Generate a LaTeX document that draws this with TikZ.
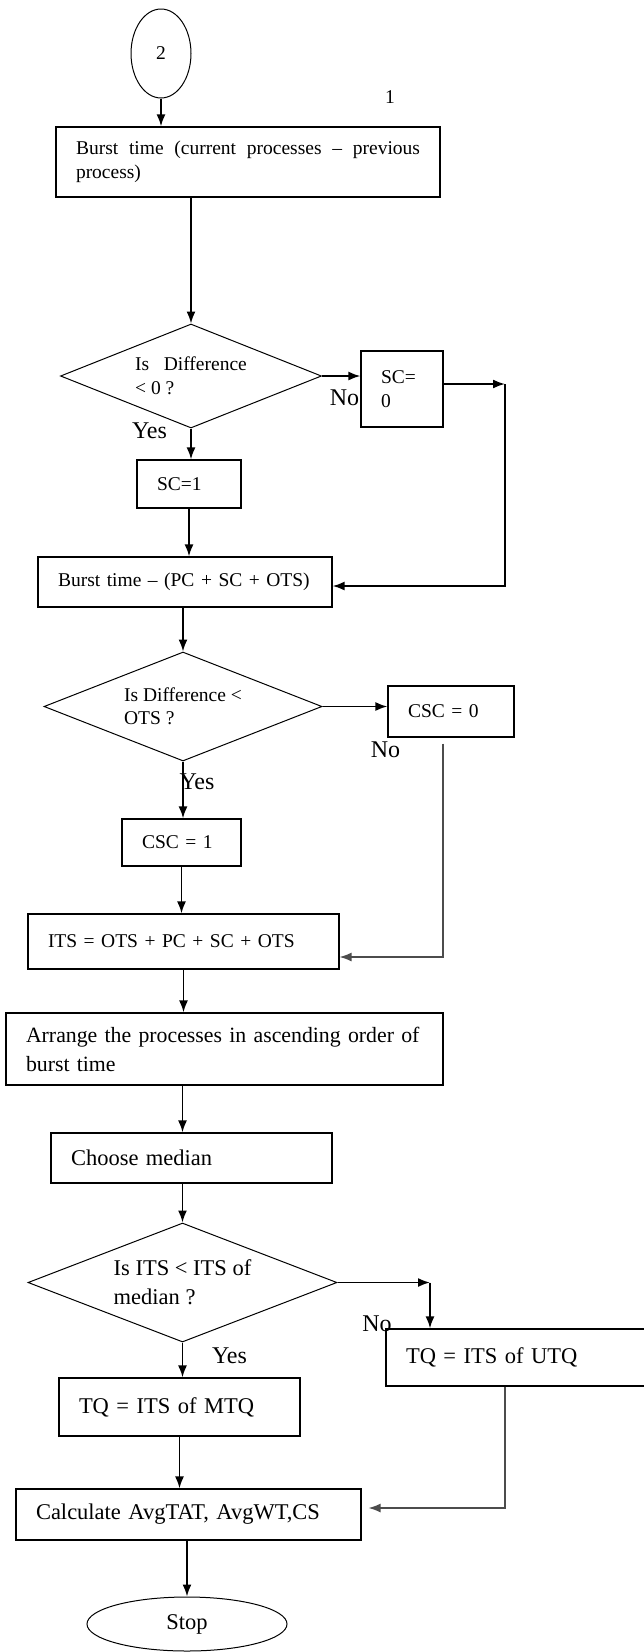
\documentclass[tikz,border=0pt]{standalone}
\usepackage{fontspec}
\setmainfont{Liberation Serif}
\usetikzlibrary{shapes.geometric,arrows.meta}
\hyphenpenalty=10000
\begin{document}
\begin{tikzpicture}[x=1pt,y=-1pt]
		\tikzstyle{fleche}=[-{Latex[length=12pt,width=9pt]},line width=1.8pt]
		\tikzstyle{fin}=[-{Latex[length=12pt,width=9pt]},line width=1.3pt,draw=black!70]
		\tikzstyle{boite}=[draw,rectangle,line width=1.2pt,inner xsep=20pt,inner ysep=2pt,align=left]
		\tikzstyle{losange}=[draw,diamond,aspect=2.5,line width=1pt,inner sep=0pt,align=left]
		\tikzstyle{bulle}=[draw,ellipse,line width=1pt,inner sep=0pt]
		\tikzstyle{etiquette}=[inner sep=0pt,font=\fontsize{24}{28}\selectfont]
		
		\def\PetitTexte{\fontsize{19.5}{23.5}\selectfont}
		\def\GrandTexte{\fontsize{22.5}{29}\selectfont}
		
		\useasboundingbox (0,0) rectangle (643,1652);
		
		\node[bulle,minimum width=60pt,minimum height=89pt,font=\PetitTexte] (Deux) at (161,53.5) {2};
		\node[inner sep=0pt,font=\PetitTexte] (Un) at (390,97) {1};
		\node[boite,text width=344pt,minimum height=70pt,align=justify,font=\PetitTexte] (Burst) at (248,162) {Burst time (current processes – previous\linebreak process)};
		
		\node[losange,minimum width=261pt,minimum height=104pt,font=\PetitTexte] (Diff) at (191,376) {Is\enspace\ Difference\\< 0 ?};
		\node[etiquette] (NonA) at (344.5,398) {No};
		\node[etiquette] (OuiA) at (149.5,431) {Yes};
		\node[boite,text width=42pt,minimum height=76pt,font=\PetitTexte] (SCzero) at (402,389) {SC=\\0};
		\node[boite,text width=64pt,minimum height=48pt,font=\PetitTexte] (SCun) at (189,484) {SC=1};
		\node[boite,text width=254pt,minimum height=50pt,font=\PetitTexte] (BurstB) at (185,582) {Burst time – (PC + SC + OTS)};
		
		\node[losange,minimum width=278pt,minimum height=109pt,font=\PetitTexte] (DiffOTS) at (183,706.5) {Is Difference <\\OTS ?};
		\node[etiquette] (NonB) at (385.5,750) {No};
		\node[etiquette] (OuiB) at (197,782) {Yes};
		\node[boite,text width=86pt,minimum height=51pt,font=\PetitTexte] (CSCzero) at (451,711.5) {CSC = 0};
		\node[boite,text width=79pt,minimum height=47pt,font=\PetitTexte] (CSCun) at (181.5,842.5) {CSC = 1};
		\node[boite,text width=271pt,minimum height=55pt,font=\PetitTexte] (ITS) at (183.5,941.5) {ITS = OTS + PC + SC + OTS};
		
		\node[boite,text width=397pt,minimum height=72pt,font=\fontsize{21.8}{29}\selectfont] (Tri) at (224.5,1049) {Arrange the processes in ascending order of\\burst time};
		\node[boite,text width=241pt,minimum height=50pt,font=\GrandTexte] (Mediane) at (191.5,1158) {Choose median};
		
		\node[losange,minimum width=309pt,minimum height=119pt,font=\GrandTexte] (DiffITS) at (182.5,1282.5) {Is ITS < ITS of\\median ?};
		\node[etiquette] (NonC) at (377,1324) {No};
		\node[etiquette] (OuiC) at (229.5,1356) {Yes};
		\node[boite,text width=220pt,minimum height=57pt,font=\GrandTexte] (UTQ) at (516,1357.5) {TQ = ITS of UTQ};
		\node[boite,text width=201pt,minimum height=58pt,font=\GrandTexte] (MTQ) at (179.5,1407) {TQ = ITS of MTQ};
		\node[boite,text width=305pt,minimum height=51pt,font=\GrandTexte] (Calcul) at (188.5,1514.5) {Calculate AvgTAT, AvgWT,CS};
		\node[bulle,minimum width=200pt,minimum height=54pt,font=\GrandTexte] (Stop) at (187,1624) {Stop};
		
		\coordinate (CoinSC) at (505,384);
		\coordinate (CoinUTQ) at (430,1282.5);
		
		\draw[fleche] (Deux.south) -- (Deux.south |- Burst.north);
		\draw[fleche] (Diff.north |- Burst.south) -- (Diff.north);
		\draw[fleche] (Diff.east) -- (Diff.east -| SCzero.west);
		\draw[fleche] ([yshift=5pt]SCzero.east) -- (CoinSC);
		\draw[fleche] (CoinSC) |- ([yshift=-4pt]BurstB.east);
		\draw[fleche] (Diff.south) -- (Diff.south |- SCun.north);
		\draw[fleche] (SCun.south) -- (SCun.south |- BurstB.north);
		\draw[fleche] (DiffOTS.north |- BurstB.south) -- (DiffOTS.north);
		\draw[fleche] (DiffOTS.east) -- (DiffOTS.east -| CSCzero.west);
		\draw[fin] ([xshift=-8pt,yshift=-6pt]CSCzero.south) |- ([yshift=-15.5pt]ITS.east);
		\draw[fleche] (DiffOTS.south) -- (DiffOTS.south |- CSCun.north);
		\draw[fleche] (CSCun.south) -- (CSCun.south |- ITS.north);
		\draw[fleche] (ITS.south) -- (ITS.south |- Tri.north);
		\draw[fleche] (DiffITS.north |- Tri.south) -- (DiffITS.north |- Mediane.north);
		\draw[fleche] (DiffITS.north |- Mediane.south) -- (DiffITS.north);
		\draw[fleche] (DiffITS.east) -- (CoinUTQ);
		\draw[fleche] (CoinUTQ) -- (CoinUTQ |- UTQ.north);
		\draw[fleche] (DiffITS.south) -- (DiffITS.south |- MTQ.north);
		\draw[fleche] (MTQ.south) -- (MTQ.south |- Calcul.north);
		\draw[fin] ([xshift=-11pt]UTQ.south) |- ([xshift=7pt,yshift=6.5pt]Calcul.east);
		\draw[fleche] (Stop.north |- Calcul.south) -- (Stop.north);
	\end{tikzpicture}
\end{document}
